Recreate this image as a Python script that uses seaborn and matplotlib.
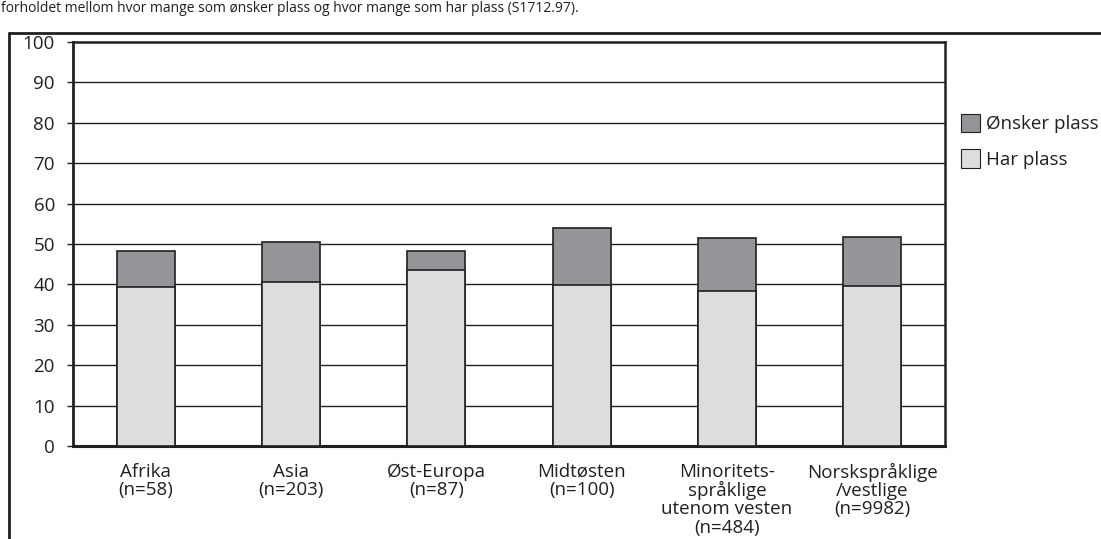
import seaborn as sns
import pandas as pd
import matplotlib
import matplotlib.pyplot as plt
import matplotlib.patches as patches
from matplotlib.lines import Line2D

matplotlib.use('Agg')

categories = ['Afrika\n(n=58)', 'Asia\n(n=203)', 'Øst-Europa\n(n=87)', 'Midtøsten\n(n=100)',
              'Minoritets-\nspråklige\nutenom vesten\n(n=484)', 'Norskspråklige\n/vestlige\n(n=9982)']
har_plass = [39.4, 40.7, 43.6, 39.9, 38.3, 39.6]
onsker_plass = [8.8, 9.9, 4.6, 14.1, 13.1, 12.2]
y_ticks = [0, 10, 20, 30, 40, 50, 60, 70, 80, 90, 100]

INK = '#231f20'
DARK = '#939598'
LIGHT = '#dcdddf'

df = pd.DataFrame({'gruppe': categories, 'har': har_plass, 'onsker': onsker_plass})
df['total'] = df['har'] + df['onsker']

sns.set_theme(rc={'figure.figsize': (11.01, 5.39)})
sns.set_style('white')
plt.rcParams['font.family'] = ['Open Sans', 'DejaVu Sans']
plt.rcParams['text.color'] = INK

fig = plt.figure(dpi=100)
ax = fig.add_axes([0.0663, 0.1725, 0.792, 0.7495])

# stacked bars: draw total first, then the lower part on top
sns.barplot(data=df, x='gruppe', y='total', color=DARK, width=0.4,
            edgecolor=INK, linewidth=1.2, saturation=1, ax=ax, zorder=3)
sns.barplot(data=df, x='gruppe', y='har', color=LIGHT, width=0.4,
            edgecolor=INK, linewidth=1.2, saturation=1, ax=ax, zorder=4)

ax.set_ylim(0, 100)
ax.set_xlim(-0.5, len(categories) - 0.5)
ax.set_yticks(y_ticks)
ax.set_yticklabels([str(t) for t in y_ticks], fontsize=13.5, color=INK)
ax.set_xticks(range(len(categories)))
ax.set_xticklabels(categories, fontsize=13.5, color=INK, linespacing=1.02)
ax.tick_params(axis='y', length=4, width=1, color=INK, pad=9, left=True)
ax.tick_params(axis='x', length=0, pad=12)
ax.set_xlabel('')
ax.set_ylabel('')

for t in y_ticks[1:-1]:
    ax.axhline(t, color=INK, lw=1, zorder=1)

for side in ['left', 'bottom', 'top', 'right']:
    ax.spines[side].set_color(INK)
ax.spines['left'].set_linewidth(2)
ax.spines['bottom'].set_linewidth(2.2)
ax.spines['top'].set_linewidth(1.8)
ax.spines['right'].set_linewidth(1.8)

handles = [patches.Patch(facecolor=DARK, edgecolor=INK, lw=0.8, label='Ønsker plass'),
           patches.Patch(facecolor=LIGHT, edgecolor=INK, lw=0.8, label='Har plass')]
fig.legend(handles=handles, loc='upper left', bbox_to_anchor=(0.866, 0.803), frameon=False,
           fontsize=13.5, handlelength=1.0, handleheight=1.15, handletextpad=0.35,
           labelspacing=0.85, borderaxespad=0)

# outer frame of the figure box
fig.add_artist(Line2D([0.0082, 0.0082], [0, 0.9388], color=INK, lw=2, transform=fig.transFigure))
fig.add_artist(Line2D([0.0082, 1.0], [0.9388, 0.9388], color=INK, lw=2, transform=fig.transFigure))

# caption line above the box
fig.text(0.001, 0.999, 'forholdet mellom hvor mange som ønsker plass og hvor mange som har plass (S1712.97).',
         fontsize=10, ha='left', va='top', color=INK)

fig.savefig('out.png', dpi=100)
plt.close()
